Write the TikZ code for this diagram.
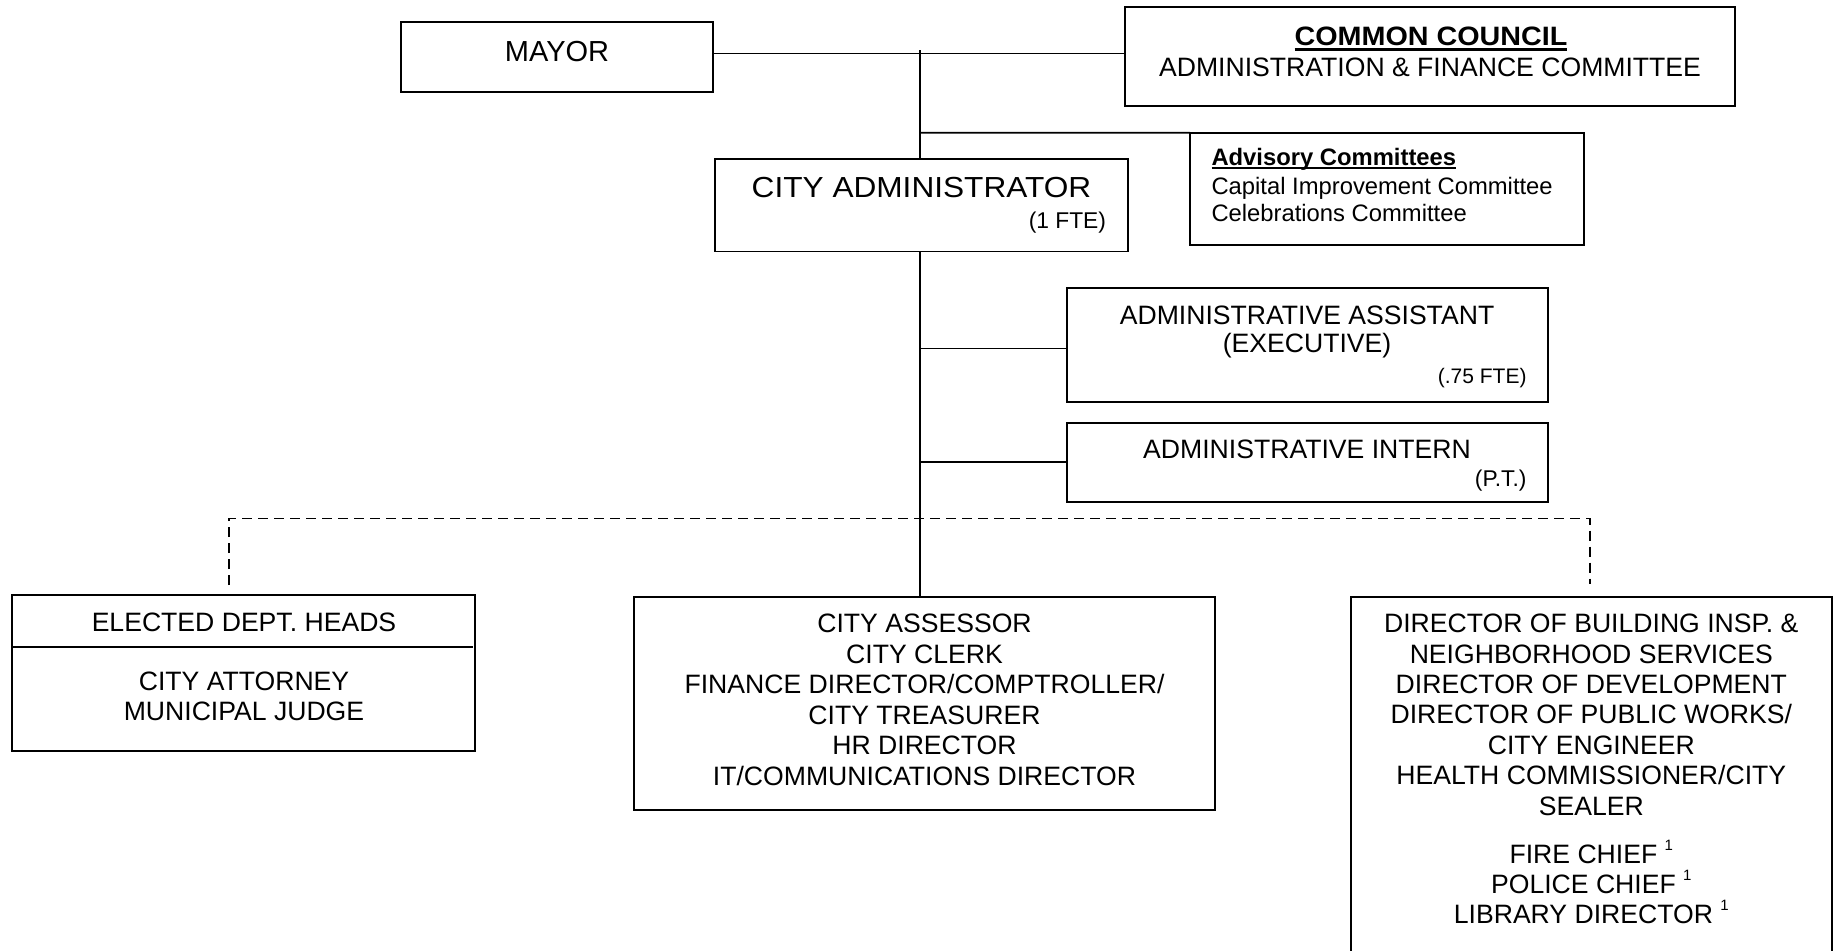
\documentclass[tikz,border=0pt]{standalone}
\usepackage{fontspec}
\usepackage{graphicx}
\setmainfont{Liberation Sans}
\usetikzlibrary{fit}
\newcommand\tst{\rule{0pt}{12pt}}
\newcommand\supone{\raisebox{6.3pt}{\fontsize{7.5}{8}\selectfont 1}}
\newcommand\sx[2]{\scalebox{#1}[1]{#2}}
\begin{document}
\begin{tikzpicture}[x=0.5pt,y=-0.5pt,
  box/.style={draw, line width=0.9pt, inner sep=0pt, outer sep=0pt},
  conn/.style={line width=0.8pt},
  dconn/.style={line width=0.8pt, dash pattern=on 5pt off 3pt},
  txt/.style={inner sep=0pt, outer sep=0pt, font=\fontsize{13.3}{15.25}\selectfont},
  ml/.style={txt, align=center, anchor=north, yshift=12pt},
  small/.style={inner sep=0pt, outer sep=0pt, font=\fontsize{11.4}{13}\selectfont, anchor=base east},
]
\useasboundingbox (0,0) rectangle (1841,950);
\clip (0,0) rectangle (1841,950);

% boxes
\node[box, fit={(400.7,22.3) (713.3,91.7)}] (mayor) {};
\node[box, fit={(1125,7.3) (1735,106)}] (council) {};
\node[box, fit={(1190,132.7) (1584,245)}] (adv) {};
\node[box, fit={(715,159) (1128,251.5)}] (ca) {};
\node[box, fit={(1066.7,288.3) (1548,401.7)}] (asst) {};
\node[box, fit={(1066.7,422.7) (1548,501.7)}] (intern) {};
\node[box, fit={(12.3,595) (475,750.7)}] (elected) {};
\node[box, fit={(634,596.7) (1215,810)}] (cent) {};
\node[box, fit={(1350.7,596.7) (1831.7,990)}] (rbox) {};

% texts
\node[txt, anchor=base, font=\fontsize{14.5}{16}\selectfont] (tmayor) at (557,61.7) {MAYOR};
\node[txt, anchor=base, font=\fontsize{13.3}{15}\selectfont\bfseries] (tcc) at (1431,45) {\sx{1.08}{COMMON COUNCIL}};
\draw[line width=1.2pt] ([yshift=-2.3pt]tcc.base west) -- ([yshift=-2.3pt]tcc.base east);
\node[txt, anchor=base] (tfin) at (1430,76.5) {ADMINISTRATION \& FINANCE COMMITTEE};

\node[txt, anchor=base west, font=\fontsize{11.9}{13}\selectfont\bfseries] (tadv) at (1211.5,165) {Advisory Committees};
\draw[line width=0.9pt] ([yshift=-1.3pt]tadv.base west) -- ([yshift=-1.3pt]tadv.base east);
\node[ml, anchor=north west, align=left, font=\fontsize{11.9}{13.5}\selectfont] (tadvl) at (1211.5,194.3) {\tst Capital Improvement Committee\\Celebrations Committee};

\node[txt, anchor=base, font=\fontsize{14.5}{16}\selectfont] (tca) at (921.5,197.5) {\sx{1.09}{CITY ADMINISTRATOR}};
\node[small] (tfte) at (1106,228) {(1 FTE)};

\node[txt, anchor=base] (tas1) at (1307,324.3) {ADMINISTRATIVE ASSISTANT};
\node[txt, anchor=base] (tas2) at (1307,352.5) {(EXECUTIVE)};
\node[small, font=\fontsize{10.5}{12}\selectfont] (tas3) at (1526.5,383.5) {(.75 FTE)};
\node[txt, anchor=base] (tin1) at (1307,458) {ADMINISTRATIVE INTERN};
\node[small] (tin2) at (1526.5,486) {(P.T.)};

\node[txt, anchor=base] (tel) at (244,631.7) {ELECTED DEPT. HEADS};
\coordinate (dv) at (0,646.7);
\coordinate (dvr) at (473,646.7);
\draw[conn] (elected.west |- dv) -- (dvr);
\node[ml] (telx) at (244,690) {\tst CITY ATTORNEY\\MUNICIPAL JUDGE};

\node[ml] (tcent) at (924.5,632.7) {\tst CITY ASSESSOR\\CITY CLERK\\FINANCE DIRECTOR/COMPTROLLER/\\CITY TREASURER\\HR DIRECTOR\\IT/COMMUNICATIONS DIRECTOR};

\node[ml, font=\fontsize{13.3}{15.2}\selectfont] (tr1) at (1591.3,632.7) {\tst DIRECTOR OF BUILDING INSP. \&\\NEIGHBORHOOD SERVICES\\DIRECTOR OF DEVELOPMENT\\DIRECTOR OF PUBLIC WORKS/\\CITY ENGINEER\\HEALTH COMMISSIONER/CITY\\SEALER};
\node[ml, font=\fontsize{13.3}{15}\selectfont] (tr2) at (1591.3,863.5) {\tst FIRE CHIEF \supone\\POLICE CHIEF \supone\\LIBRARY DIRECTOR \supone};

% connectors
\coordinate (sp0) at (920,50);
\coordinate (jm) at (920,53.3);
\draw[conn] (mayor.east |- jm) -- (council.west |- jm);
\draw[conn] (sp0) -- (sp0 |- ca.north);
\draw[conn] (sp0 |- ca.south) -- (sp0 |- cent.north);
\coordinate (ja) at (920,132.7);
\draw[conn] (ja) -- (adv.north west);
\coordinate (jb) at (920,348.3);
\draw[conn] (jb) -- (asst.west |- jb);
\coordinate (jc) at (920,461.7);
\draw[conn] (jc) -- (intern.west |- jc);
\coordinate (dL) at (229,585);
\coordinate (dR) at (1590,584);
\coordinate (dy) at (920,518.3);
\draw[dconn] (dL) -- (dL |- dy) -- (dR |- dy) -- (dR);
\end{tikzpicture}
\end{document}
